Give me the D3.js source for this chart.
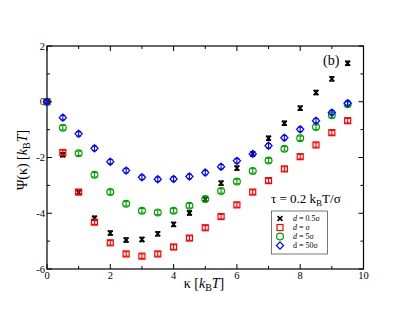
<!DOCTYPE html>
<html><head><meta charset="utf-8">
<script src="https://cdn.jsdelivr.net/npm/d3@7"></script>
<style>body{margin:0;background:#fff}svg{display:block}text{font-family:"Liberation Serif","Times New Roman",serif}</style>
</head><body>
<script>
const kappa = [0,0.5,1,1.5,2,2.5,3,3.5,4,4.5,5,5.5,6,6.5,7,7.5,8,8.5,9,9.5];
const psiD05 = [0,-1.90,-3.25,-4.18,-4.71,-4.96,-4.94,-4.74,-4.40,-3.99,-3.50,-2.92,-2.38,-1.87,-1.31,-0.77,-0.23,0.33,0.82,1.38];
const psiD1  = [0,-1.82,-3.24,-4.32,-5.06,-5.46,-5.54,-5.46,-5.21,-4.89,-4.52,-4.12,-3.70,-3.24,-2.83,-2.41,-1.97,-1.55,-1.11,-0.68];
const psiD5  = [0,-0.93,-1.85,-2.62,-3.24,-3.66,-3.91,-3.97,-3.91,-3.73,-3.49,-3.20,-2.86,-2.48,-2.11,-1.69,-1.31,-0.91,-0.48,-0.09];
const psiD50 = [0,-0.57,-1.15,-1.67,-2.15,-2.47,-2.71,-2.78,-2.77,-2.68,-2.54,-2.33,-2.12,-1.87,-1.58,-1.29,-0.99,-0.68,-0.39,-0.05];
const errBar = 0.08;
const xTicks = [0,2,4,6,8,10];
const yTicks = [-6,-4,-2,0,2];
const seriesLabels = ["d = 0.5σ","d = σ","d = 5σ","d = 50σ"];

const W=409,H=316;
const svg=d3.select("body").append("svg").attr("width",W).attr("height",H);
const L=47,R=363.5,T=46,B=269;
const x=d3.scaleLinear().domain([0,10]).range([L,R]);
const y=d3.scaleLinear().domain([-6,2]).range([B,T]);

svg.append("rect").attr("x",L).attr("y",T).attr("width",R-L).attr("height",B-T).attr("fill","none").attr("stroke","#000").attr("stroke-width",1.2);

const g=svg.append("g").attr("stroke","#000").attr("stroke-width",1);
d3.range(0,11,1).forEach(v=>{
  const len = v%2===0?5:3;
  g.append("line").attr("x1",x(v)).attr("x2",x(v)).attr("y1",B).attr("y2",B-len);
  g.append("line").attr("x1",x(v)).attr("x2",x(v)).attr("y1",T).attr("y2",T+len);
});
d3.range(-6,3,1).forEach(v=>{
  const len = v%2===0?5:3;
  g.append("line").attr("y1",y(v)).attr("y2",y(v)).attr("x1",L).attr("x2",L+len);
  g.append("line").attr("y1",y(v)).attr("y2",y(v)).attr("x1",R).attr("x2",R-len);
});
xTicks.forEach(v=>svg.append("text").attr("x",x(v)).attr("y",B+9.5).attr("text-anchor","middle").attr("font-size",10.5).text(v));
yTicks.forEach(v=>svg.append("text").attr("x",L-2).attr("y",y(v)+3.5).attr("text-anchor","end").attr("font-size",10.5).text(v));

const xl=svg.append("text").attr("x",204).attr("y",288).attr("text-anchor","middle").attr("font-size",14);
xl.append("tspan").text("κ [");
xl.append("tspan").attr("font-style","italic").text("k");
xl.append("tspan").attr("font-size",10).attr("dy",3).text("B");
xl.append("tspan").attr("font-style","italic").attr("dy",-3).text("T");
xl.append("tspan").text("]");
const yl=svg.append("text").attr("transform","translate(27,160) rotate(-90)").attr("text-anchor","middle").attr("font-size",14);
yl.append("tspan").text("Ψ(κ) [");
yl.append("tspan").attr("font-style","italic").text("k");
yl.append("tspan").attr("font-size",10).attr("dy",3).text("B");
yl.append("tspan").attr("font-style","italic").attr("dy",-3).text("T");
yl.append("tspan").text("]");

function errbars(sel,vals,color){
  const gg=sel.append("g").attr("stroke",color).attr("stroke-width",1.1);
  kappa.forEach((k,i)=>{
    const cx=x(k),y1=y(vals[i]-errBar),y2=y(vals[i]+errBar);
    gg.append("line").attr("x1",cx).attr("x2",cx).attr("y1",y1).attr("y2",y2);
    gg.append("line").attr("x1",cx-2.5).attr("x2",cx+2.5).attr("y1",y1).attr("y2",y1);
    gg.append("line").attr("x1",cx-2.5).attr("x2",cx+2.5).attr("y1",y2).attr("y2",y2);
  });
}
function drawMarker(gg,type,cx,cy,color){
  if(type==="x"){
    const s=2.4;
    gg.append("path").attr("d",`M${cx-s},${cy-s}L${cx+s},${cy+s}M${cx-s},${cy+s}L${cx+s},${cy-s}`).attr("stroke",color).attr("stroke-width",1.6).attr("fill","none");
  } else if(type==="sq"){
    gg.append("rect").attr("x",cx-3).attr("y",cy-3).attr("width",6).attr("height",6).attr("fill","none").attr("stroke",color).attr("stroke-width",1.2);
  } else if(type==="ci"){
    gg.append("circle").attr("cx",cx).attr("cy",cy).attr("r",3.4).attr("fill","none").attr("stroke",color).attr("stroke-width",1.2);
  } else {
    const s=3.6;
    gg.append("path").attr("d",`M${cx},${cy-s}L${cx+s},${cy}L${cx},${cy+s}L${cx-s},${cy}Z`).attr("fill","none").attr("stroke",color).attr("stroke-width",1.2);
  }
}
const series=[
  {vals:psiD05,color:"#000000",type:"x"},
  {vals:psiD1,color:"#ff0000",type:"sq"},
  {vals:psiD5,color:"#00a000",type:"ci"},
  {vals:psiD50,color:"#0000ff",type:"di"}
];
series.forEach(s=>{
  const gg=svg.append("g");
  errbars(gg,s.vals,s.color);
  kappa.forEach((k,i)=>drawMarker(gg,s.type,x(k),y(s.vals[i]),s.color));
});

svg.append("text").attr("x",323).attr("y",65).attr("font-size",14).text("(b)");
const ann=svg.append("text").attr("x",271).attr("y",203).attr("font-size",13);
ann.append("tspan").text("τ = 0.2 k");
ann.append("tspan").attr("font-size",9).attr("dy",3).text("B");
ann.append("tspan").attr("dy",-3).text("T/σ");

svg.append("rect").attr("x",271.5).attr("y",211).attr("width",56).attr("height",43).attr("fill","#fff").attr("stroke","#555").attr("stroke-width",0.8);
const ly=[218.5,227.5,236.5,245.5];
series.forEach((s,i)=>{
  const gg=svg.append("g");
  drawMarker(gg,s.type,280,ly[i],s.color);
  const t=svg.append("text").attr("x",293).attr("y",ly[i]+2.8).attr("font-size",8);
  if(i<3){
    t.append("tspan").attr("font-style","italic").text("d");
    t.append("tspan").text(seriesLabels[i].slice(1));
  } else t.text(seriesLabels[i]);
});
</script>
</body></html>
